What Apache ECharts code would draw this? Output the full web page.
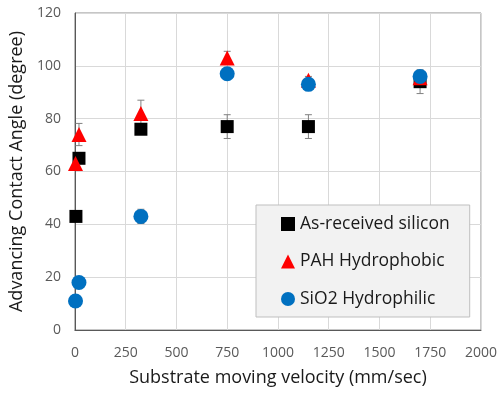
<!DOCTYPE html>
<html>
<head>
<meta charset="utf-8">
<script src="https://cdn.jsdelivr.net/npm/echarts@6/dist/echarts.min.js"></script>
<style>
  html, body { margin: 0; padding: 0; background: #fff; }
  #chart { width: 501px; height: 394px; }
</style>
</head>
<body>
<div id="chart"></div>
<script>
// velocities (mm/sec) and advancing contact angles (degree)
const siliconX = [5, 20, 325, 750, 1150, 1700];
const siliconY = [43, 65, 76, 77, 77, 94];
const siliconErr = [0, 0, 0, 4.5, 4.5, 4.5];

const pahX = [3, 20, 325, 750, 1150, 1700];
const pahY = [63, 74, 82, 103, 94.5, 95.5];
const pahErr = [0, 4.2, 5, 2.5, 1.5, 1.5];

const sio2X = [3, 20, 325, 750, 1150, 1700];
const sio2Y = [11, 18, 43, 97, 93, 96];
const sio2Err = [0, 0, 2.7, 0, 0, 0];

const font = "'Open Sans', sans-serif";

const points = (xs, ys) => xs.map((x, i) => [x, ys[i]]);
const withErr = (xs, ys, es) => xs.map((x, i) => [x, ys[i], es[i]]);

// error bars sit under all the markers
const errorBars = (data) => ({
  type: "custom",
  name: "err",
  z: 1,
  data: data,
  renderItem: (params, api) => {
    const x = api.value(0);
    const y = api.value(1);
    const e = api.value(2);
    if (!e) return null;
    const top = api.coord([x, y + e]);
    const bot = api.coord([x, y - e]);
    const style = { stroke: "#808080", lineWidth: 1 };
    const cap = 3.5;
    return {
      type: "group",
      children: [
        { type: "line", shape: { x1: top[0], y1: top[1], x2: bot[0], y2: bot[1] }, style },
        { type: "line", shape: { x1: top[0] - cap, y1: top[1], x2: top[0] + cap, y2: top[1] }, style },
        { type: "line", shape: { x1: bot[0] - cap, y1: bot[1], x2: bot[0] + cap, y2: bot[1] }, style },
      ],
    };
  },
});

const chart = echarts.init(document.getElementById("chart"));

const option = {
  animation: false,
  textStyle: { fontFamily: font },
  grid: {
    left: 72,
    right: 20,
    top: 13,
    bottom: 64,
    show: true,
    borderColor: "#8c8c8c",
    borderWidth: 1,
  },
  legend: {
    data: ["As-received silicon", "PAH Hydrophobic", "SiO2 Hydrophilic"],
    orient: "vertical",
    left: 256,
    top: 205,
    padding: [10, 20, 9, 25],
    itemGap: 19.5,
    itemWidth: 14,
    itemHeight: 14,
    backgroundColor: "#f2f2f2",
    borderColor: "#bfbfbf",
    borderWidth: 1,
    textStyle: { fontFamily: font, fontSize: 17.5, color: "#1a1a1a" },
  },
  xAxis: {
    type: "value",
    min: 0,
    max: 2000,
    interval: 250,
    name: "Substrate moving velocity (mm/sec)",
    nameLocation: "middle",
    nameGap: 39,
    nameTextStyle: { fontFamily: font, fontSize: 18, color: "#1a1a1a" },
    axisLine: { lineStyle: { color: "#595959" } },
    axisTick: { show: false },
    axisLabel: { fontFamily: font, fontSize: 14, color: "#595959", margin: 16, formatter: (v) => String(v) },
    splitLine: { lineStyle: { color: "#d9d9d9" } },
  },
  yAxis: {
    type: "value",
    min: 0,
    max: 120,
    interval: 20,
    name: "Advancing Contact Angle (degree)",
    nameLocation: "middle",
    nameGap: 43,
    nameTextStyle: { fontFamily: font, fontSize: 18, color: "#1a1a1a" },
    axisLine: { show: true, lineStyle: { color: "#595959" } },
    axisTick: { show: false },
    axisLabel: { fontFamily: font, fontSize: 14, color: "#595959", margin: 14 },
    splitLine: { lineStyle: { color: "#d9d9d9" } },
  },
  series: [
    errorBars(withErr(siliconX, siliconY, siliconErr)),
    errorBars(withErr(pahX, pahY, pahErr)),
    errorBars(withErr(sio2X, sio2Y, sio2Err)),
    {
      name: "As-received silicon",
      type: "scatter",
      symbol: "rect",
      symbolSize: 13,
      itemStyle: { color: "#000000", opacity: 1 },
      z: 2,
      data: points(siliconX, siliconY),
    },
    {
      name: "PAH Hydrophobic",
      type: "scatter",
      symbol: "triangle",
      symbolSize: 15,
      itemStyle: { color: "#ff0000", opacity: 1 },
      z: 3,
      data: points(pahX, pahY),
    },
    {
      name: "SiO2 Hydrophilic",
      type: "scatter",
      symbol: "circle",
      symbolSize: 15,
      itemStyle: { color: "#0070c0", opacity: 1 },
      z: 4,
      data: points(sio2X, sio2Y),
    },
  ],
};

chart.setOption(option);
</script>
</body>
</html>
